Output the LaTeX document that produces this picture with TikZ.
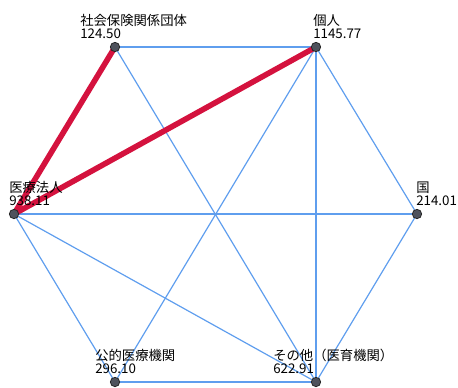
\documentclass[tikz,border=0pt]{standalone}
\usepackage{fontspec}
\usetikzlibrary{backgrounds}
\newfontfamily\jpfont{Noto Sans CJK JP}
\definecolor{linkblue}{RGB}{95,158,238}
\definecolor{linkred}{RGB}{212,18,62}
\definecolor{dotgray}{RGB}{78,82,92}

\begin{document}
\begin{tikzpicture}[
    x=0.75pt, y=-0.75pt,
    vertex/.style={
        circle,
        draw=black!85,
        line width=0.6pt,
        inner sep=0pt,
        minimum size=7pt,
        fill=dotgray
    },
    tag/.style={
        anchor=south west,
        align=left,
        inner sep=0pt,
        font=\jpfont\fontsize{10}{9.5}\selectfont
    },
    weak/.style={linkblue, line width=0.9pt},
    strong/.style={linkred, line width=4.2pt}
]

    \useasboundingbox (0,0) rectangle (458,387);

    % Vertices
    \node[vertex] (S) at (115,47) {};
    \node[vertex] (K) at (316,47) {};
    \node[vertex] (I) at (14,214) {};
    \node[vertex] (G) at (417,214) {};
    \node[vertex] (P) at (115,382) {};
    \node[vertex] (O) at (316,382) {};

    \begin{pgfonlayer}{background}
    % Weak links
    \draw[weak] (S.center) -- (K.center);
    \draw[weak] (S.center) -- (O.center);
    \draw[weak] (K.center) -- (G.center);
    \draw[weak] (K.center) -- (O.center);
    \draw[weak] (K.center) -- (P.center);
    \draw[weak] (I.center) -- (G.center);
    \draw[weak] (I.center) -- (P.center);
    \draw[weak] (I.center) -- (O.center);
    \draw[weak] (G.center) -- (O.center);
    \draw[weak] (P.center) -- (O.center);

    % Strong links
    \draw[strong] (I.center) -- (S.center);
    \draw[strong] (I.center) -- (K.center);
    \end{pgfonlayer}

    % Labels
    \node[tag] (Slab) at (80,39) {社会保険関係団体\\124.50};
    \node[tag] (Klab) at (313,39) {個人\\1145.77};
    \node[tag] (Ilab) at (9,206) {医療法人\\938.11};
    \node[tag] (Glab) at (416,206) {国\\214.01};
    \node[tag] (Plab) at (95,374) {公的医療機関\\296.10};
    \node[tag] (Olab) at (273,374) {その他（医育機関）\\622.91};

\end{tikzpicture}
\end{document}
